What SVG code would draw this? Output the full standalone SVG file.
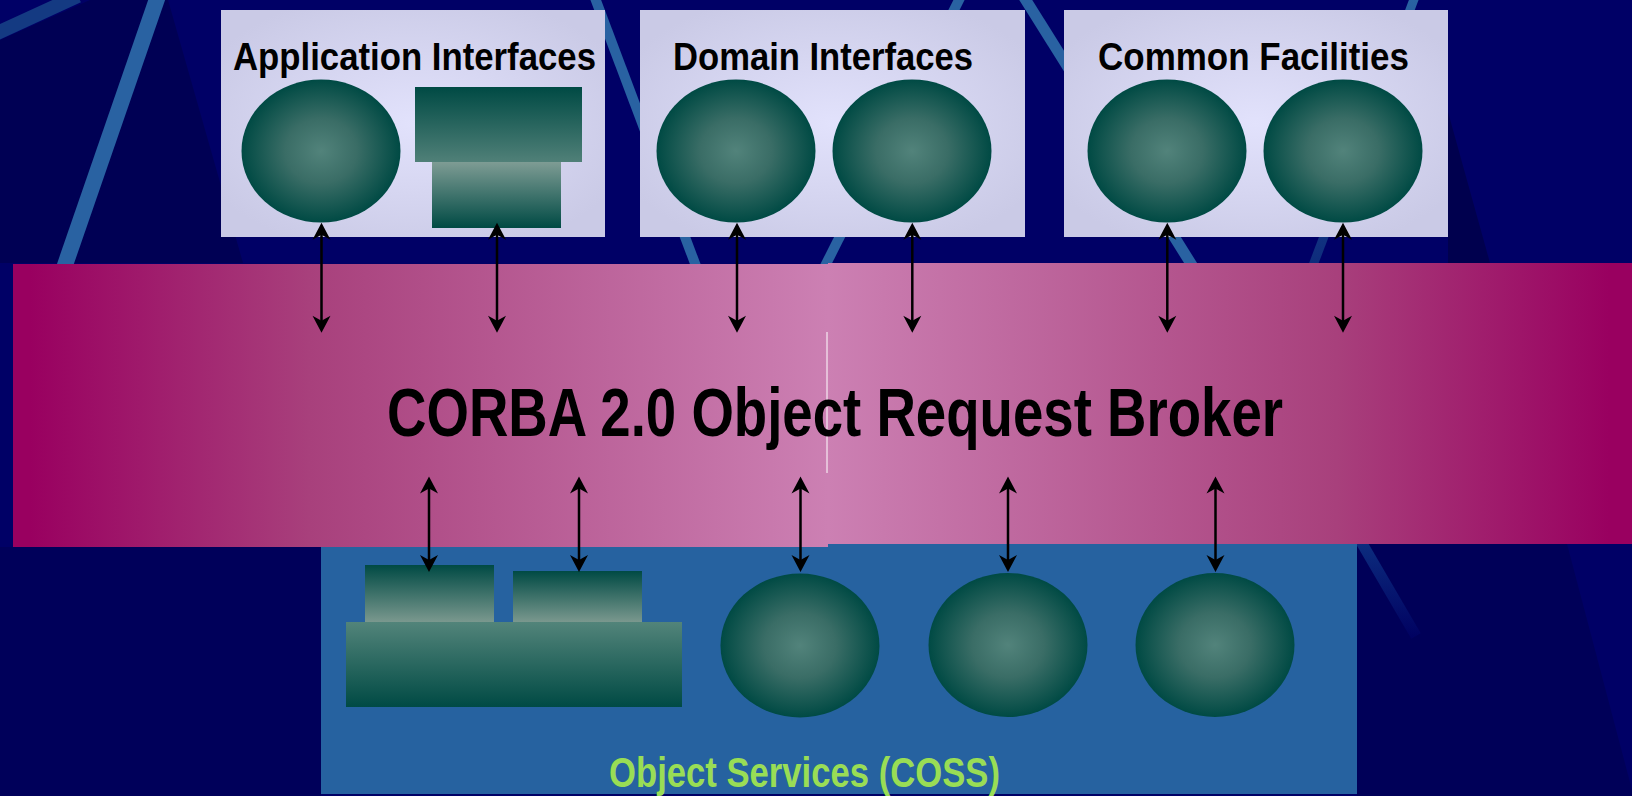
<svg xmlns="http://www.w3.org/2000/svg" width="1632" height="796" viewBox="0 0 1632 796">
  <defs>
    <style>
      .streak { stroke: #2962a2; fill: none; stroke-linecap: butt; }
      .box { fill: url(#boxGrad); }
      .orb { fill: url(#orbGrad); }
      .title { font-family: "Liberation Sans Narrow", "Liberation Sans", Arial, sans-serif; font-weight: bold; font-size: 39px; fill: #000; text-anchor: start; }
      .orbtext { font-family: "Liberation Sans Narrow", "Liberation Sans", Arial, sans-serif; font-weight: bold; font-size: 68px; fill: #000; }
      .coss { font-family: "Liberation Sans Narrow", "Liberation Sans", Arial, sans-serif; font-weight: bold; font-size: 42px; fill: #99dd55; }
      .conn { stroke: #000; stroke-width: 2.5; fill: none; marker-start: url(#arrow); marker-end: url(#arrow); }
    </style>
    <radialGradient id="boxGrad" cx="0.5" cy="0.5" r="0.6">
      <stop offset="0" stop-color="#e2e2fc"/>
      <stop offset="1" stop-color="#cacae6"/>
    </radialGradient>
    <radialGradient id="orbGrad" cx="0.5" cy="0.5" r="0.5">
      <stop offset="0" stop-color="#52837b"/>
      <stop offset="0.45" stop-color="#3a6d66"/>
      <stop offset="1" stop-color="#004a44"/>
    </radialGradient>
    <linearGradient id="darkToLight" x1="0" y1="0" x2="0" y2="1">
      <stop offset="0" stop-color="#004a44"/>
      <stop offset="1" stop-color="#508078"/>
    </linearGradient>
    <linearGradient id="greyToDark" x1="0" y1="0" x2="0" y2="1">
      <stop offset="0" stop-color="#7e9c94"/>
      <stop offset="1" stop-color="#004a44"/>
    </linearGradient>
    <linearGradient id="darkToGrey" x1="0" y1="0" x2="0" y2="1">
      <stop offset="0" stop-color="#004a44"/>
      <stop offset="1" stop-color="#7a988e"/>
    </linearGradient>
    <linearGradient id="lightToDark" x1="0" y1="0" x2="0" y2="1">
      <stop offset="0" stop-color="#52847a"/>
      <stop offset="1" stop-color="#004a44"/>
    </linearGradient>
    <linearGradient id="pinkL" gradientUnits="userSpaceOnUse" x1="30" y1="0" x2="828" y2="0">
      <stop offset="0" stop-color="#990060"/>
      <stop offset="0.35" stop-color="#a8407c"/>
      <stop offset="1" stop-color="#cc80b3"/>
    </linearGradient>
    <linearGradient id="pinkR" gradientUnits="userSpaceOnUse" x1="828" y1="0" x2="1610" y2="0">
      <stop offset="0" stop-color="#cc80b3"/>
      <stop offset="0.65" stop-color="#a8407c"/>
      <stop offset="1" stop-color="#990060"/>
    </linearGradient>
    <linearGradient id="fadeE" gradientUnits="userSpaceOnUse" x1="0" y1="0" x2="0" y2="263">
      <stop offset="0" stop-color="#2962a2"/>
      <stop offset="1" stop-color="#0e2c7c"/>
    </linearGradient>
    <linearGradient id="fadeLow" gradientUnits="userSpaceOnUse" x1="0" y1="544" x2="0" y2="640">
      <stop offset="0" stop-color="#0c2c7e"/>
      <stop offset="1" stop-color="#000060"/>
    </linearGradient>
    <marker id="arrow" markerUnits="userSpaceOnUse" viewBox="-12 -10 22 20" markerWidth="22" markerHeight="20" refX="0" refY="0" orient="auto-start-reverse">
      <path d="M8,0 L-9,-9 L-4,0 L-9,9 Z" fill="#000"/>
    </marker>
  </defs>

  <g id="background">
    <rect x="0" y="0" width="1632" height="796" fill="#000066"/>
    <polygon points="0,40 90,0 168,0 243,263 0,263" fill="#000054"/>
    <polygon points="0,547 321,547 321,796 0,796" fill="#00005a"/>
    <polygon points="1357,544 1567,544 1632,790 1632,796 1357,796" fill="#000058"/>
    <polygon points="1448,112 1490,263 1448,263" fill="#00004e"/>
    <line class="streak" x1="-5" y1="34" x2="78" y2="-4" stroke-width="14" style="stroke:#143a82"/>
    <line class="streak" x1="158" y1="-4" x2="64" y2="268" stroke-width="16"/>
    <line class="streak" x1="592" y1="-10" x2="705" y2="290" stroke-width="10"/>
    <line class="streak" x1="962" y1="-6" x2="820" y2="276" stroke-width="10"/>
    <line class="streak" x1="1022" y1="-6" x2="1205" y2="286" stroke-width="11"/>
    <line class="streak" x1="1416" y1="-6" x2="1312" y2="268" stroke-width="9" style="stroke:url(#fadeE)"/>
    <line x1="1360" y1="540" x2="1416" y2="636" stroke="url(#fadeLow)" stroke-width="11"/>
  </g>

  <g id="app-interfaces">
    <rect class="box" x="221" y="10" width="384" height="227"/>
    <text class="title" x="233" y="70" textLength="363" lengthAdjust="spacingAndGlyphs">Application Interfaces</text>
    <ellipse class="orb" cx="321" cy="151" rx="79.5" ry="71.5"/>
    <rect x="415" y="87" width="167" height="75" fill="url(#darkToLight)"/>
    <rect x="432" y="162" width="129" height="66" fill="url(#greyToDark)"/>
  </g>

  <g id="domain-interfaces">
    <rect class="box" x="640" y="10" width="385" height="227"/>
    <text class="title" x="673" y="70" textLength="300" lengthAdjust="spacingAndGlyphs">Domain Interfaces</text>
    <ellipse class="orb" cx="736" cy="151" rx="79.5" ry="71.5"/>
    <ellipse class="orb" cx="912" cy="151" rx="79.5" ry="71.5"/>
  </g>

  <g id="common-facilities">
    <rect class="box" x="1064" y="10" width="384" height="227"/>
    <text class="title" x="1098" y="70" textLength="311" lengthAdjust="spacingAndGlyphs">Common Facilities</text>
    <ellipse class="orb" cx="1167" cy="151" rx="79.5" ry="71.5"/>
    <ellipse class="orb" cx="1343" cy="151" rx="79.5" ry="71.5"/>
  </g>

  <g id="object-services">
    <rect x="321" y="540" width="1036" height="254" fill="#2662a0"/>
    <rect x="365" y="565" width="129" height="57" fill="url(#darkToGrey)"/>
    <rect x="513" y="571" width="129" height="51" fill="url(#darkToGrey)"/>
    <rect x="346" y="622" width="336" height="85" fill="url(#lightToDark)"/>
    <ellipse class="orb" cx="800" cy="645.5" rx="79.5" ry="72"/>
    <ellipse class="orb" cx="1008" cy="645" rx="79.5" ry="72"/>
    <ellipse class="orb" cx="1215" cy="645" rx="79.5" ry="72"/>
    <text class="coss" x="609" y="787" textLength="391" lengthAdjust="spacingAndGlyphs">Object Services (COSS)</text>
  </g>

  <g id="orb">
    <rect x="13" y="264" width="815" height="283" fill="url(#pinkL)"/>
    <rect x="828" y="263" width="804" height="281" fill="url(#pinkR)"/>
    <line x1="827" y1="332" x2="827" y2="473" stroke="#ffffff" stroke-width="1"/>
    <text class="orbtext" x="387" y="436" textLength="896" lengthAdjust="spacingAndGlyphs">CORBA 2.0 Object Request Broker</text>
  </g>

  <g id="connectors">
    <line class="conn" x1="321.5" y1="230.7" x2="321.5" y2="324.7"/>
    <line class="conn" x1="497" y1="230.7" x2="497" y2="324.7"/>
    <line class="conn" x1="737" y1="230.7" x2="737" y2="324.7"/>
    <line class="conn" x1="912.3" y1="230.7" x2="912.3" y2="324.7"/>
    <line class="conn" x1="1167.3" y1="230.7" x2="1167.3" y2="324.7"/>
    <line class="conn" x1="1343" y1="230.7" x2="1343" y2="324.7"/>
    <line class="conn" x1="429" y1="484.5" x2="429" y2="564"/>
    <line class="conn" x1="579" y1="484.5" x2="579" y2="564"/>
    <line class="conn" x1="800.5" y1="484.5" x2="800.5" y2="564"/>
    <line class="conn" x1="1008" y1="484.5" x2="1008" y2="564"/>
    <line class="conn" x1="1215.5" y1="484.5" x2="1215.5" y2="564"/>
  </g>
</svg>
